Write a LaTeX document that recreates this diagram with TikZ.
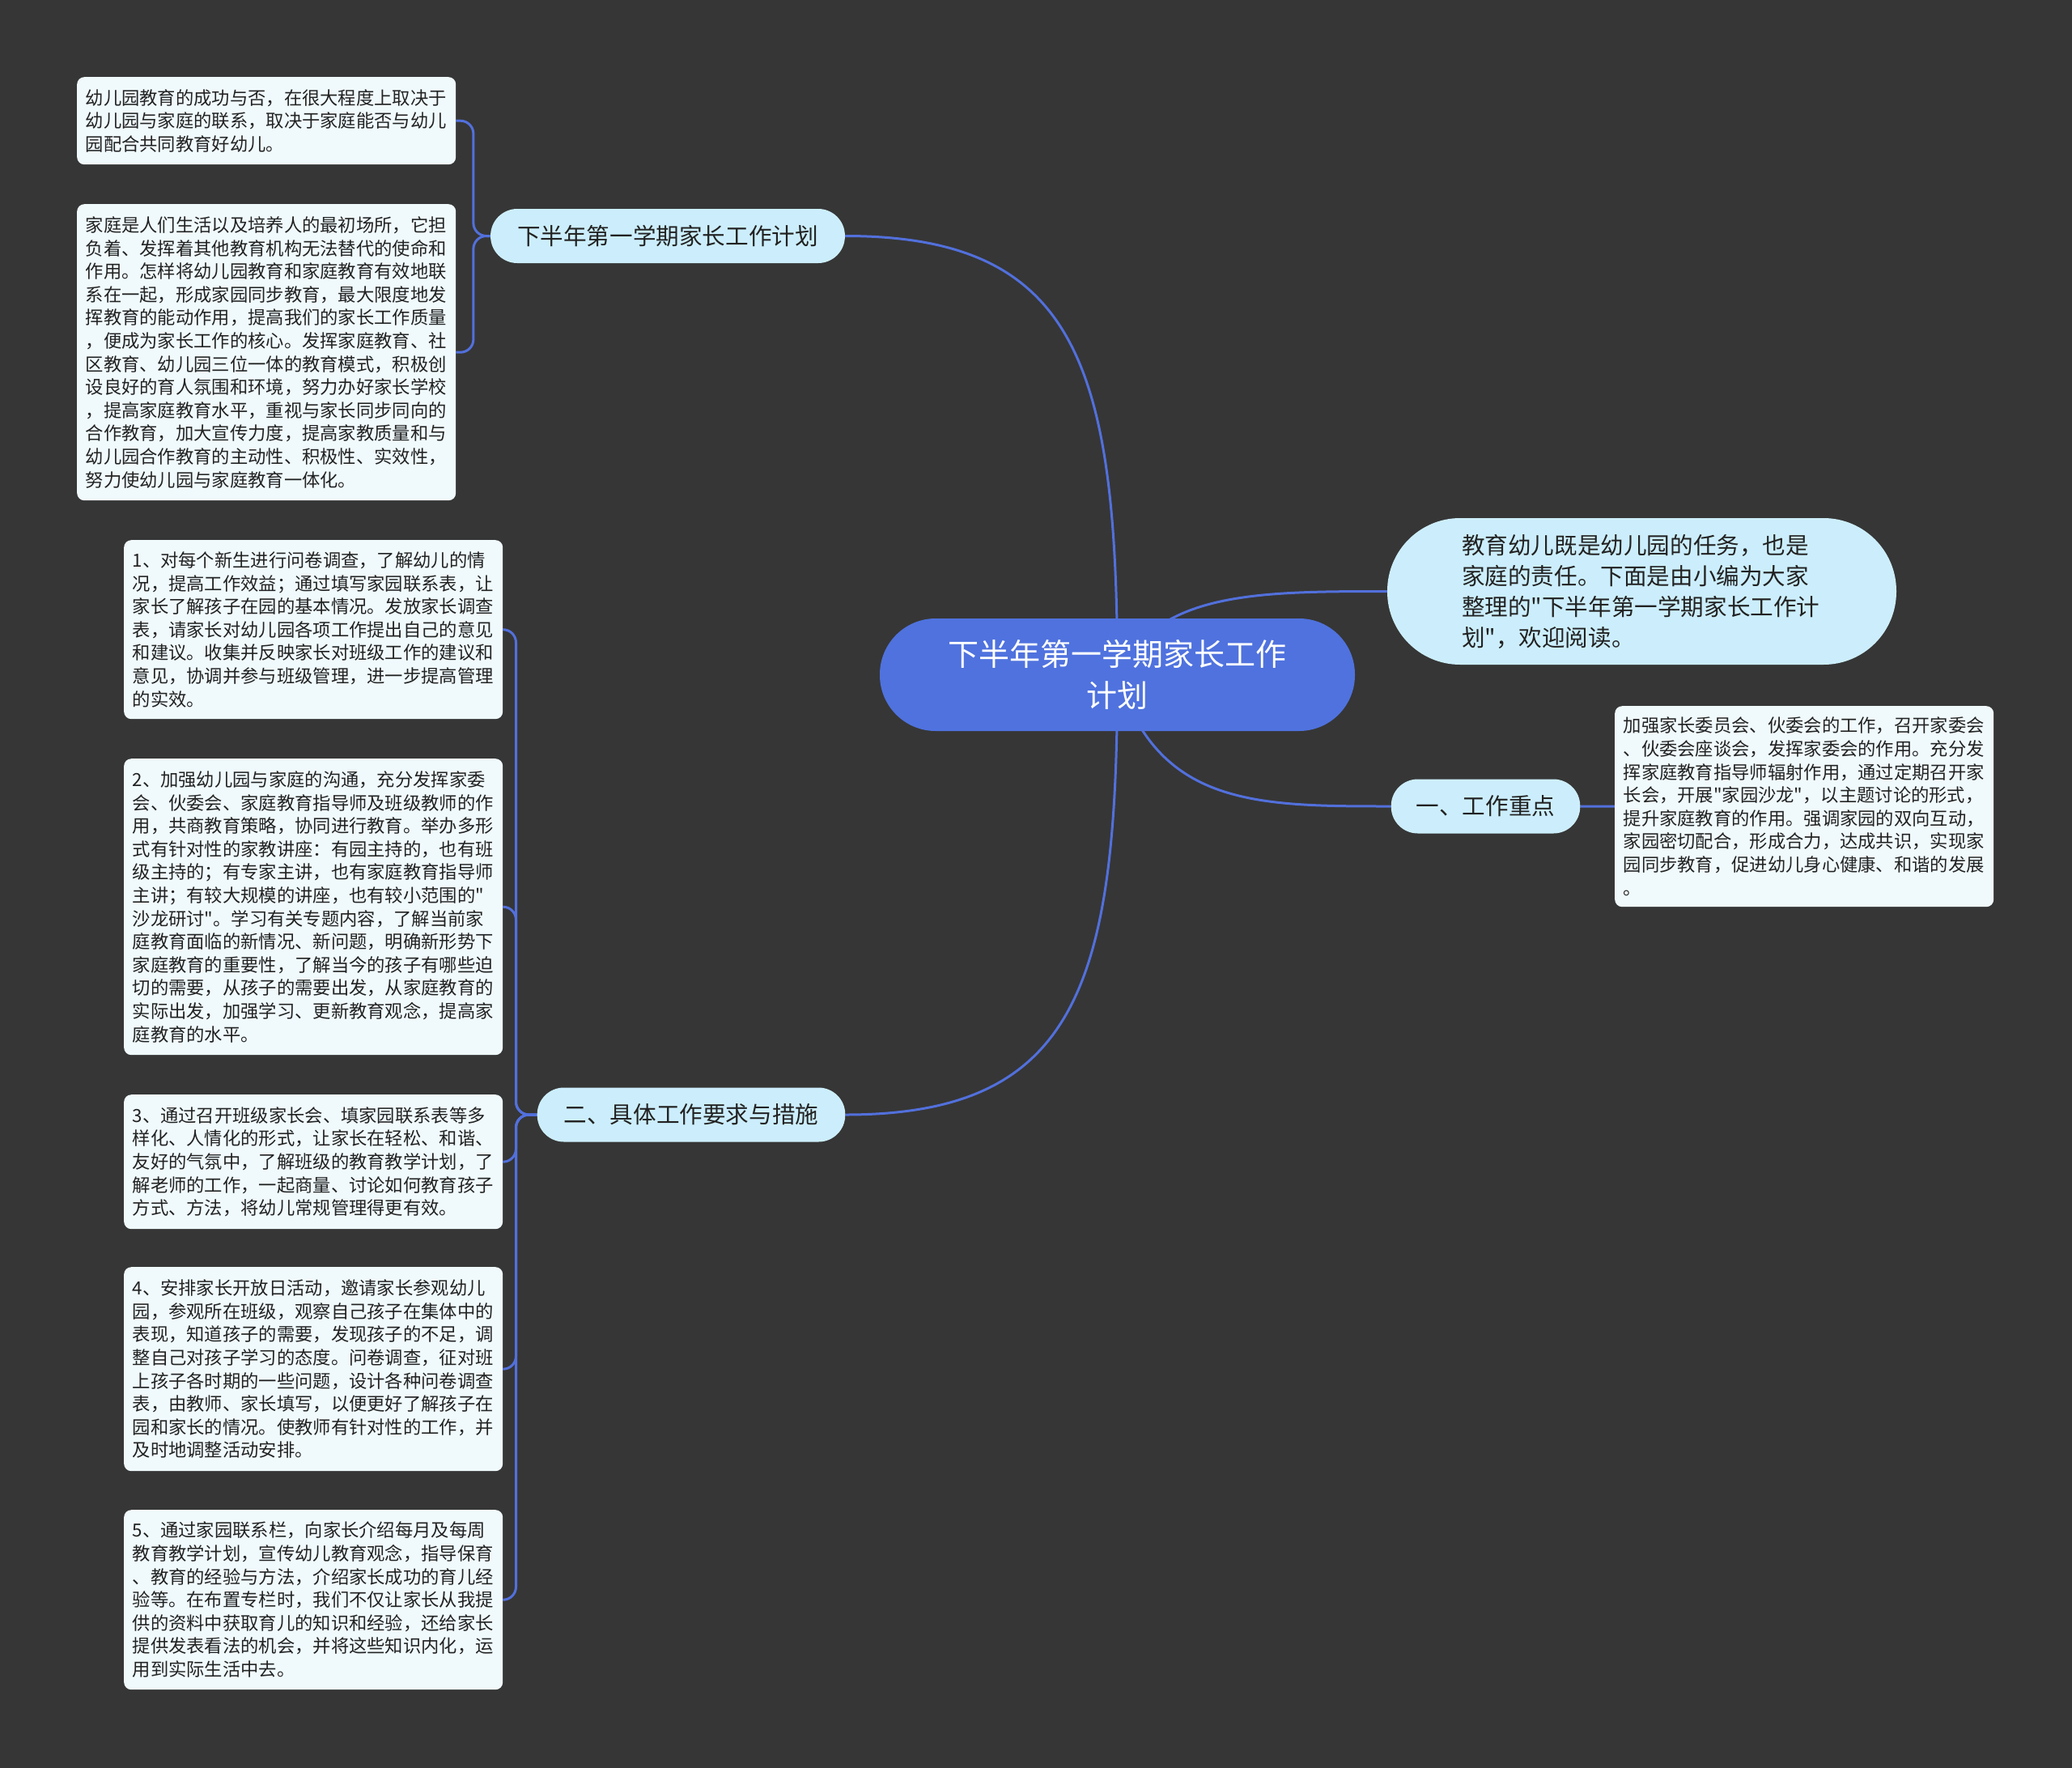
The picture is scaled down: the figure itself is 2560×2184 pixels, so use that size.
\documentclass[tikz,border=0pt]{standalone}
\usepackage{fontspec}
\setmainfont{Noto Sans CJK SC}
\newfontfamily\cjkf{Noto Sans CJK SC}
\usetikzlibrary{calc}
\pgfdeclarelayer{bg}
\pgfdeclarelayer{edges}
\pgfsetlayers{bg,edges,main}
\definecolor{bgc}{RGB}{54,54,54}
\definecolor{cblue}{RGB}{79,114,222}
\definecolor{lblue}{RGB}{204,238,252}
\definecolor{leafc}{RGB}{240,250,253}
\definecolor{edgec}{RGB}{82,112,220}
\definecolor{txt}{RGB}{34,34,34}
\begin{document}
\begin{tikzpicture}[x=1pt,y=-1pt,
  leafbox/.style={fill=leafc,rounded corners=9pt,text width=447pt,inner xsep=10.5pt,inner ysep=0pt,align=left,font=\cjkf\fontsize{22.3}{28.6}\selectfont,text=txt,anchor=north west},
  subbox/.style={fill=lblue,rounded corners=33pt,minimum height=67pt,inner xsep=33pt,inner ysep=0pt,font=\cjkf\fontsize{28.6}{36}\selectfont,text=txt},
  link/.style={draw=edgec,line width=3pt}]
\useasboundingbox (0,0) rectangle (2560,2184);
\begin{pgfonlayer}{bg}
\fill[bgc] (0,0) rectangle (2560,2184);
\end{pgfonlayer}

% central
\node[fill=cblue,rounded corners=69pt,minimum width=587pt,minimum height=139pt,inner sep=0pt,align=center,text=white,font=\cjkf\fontsize{38}{51}\selectfont] (c) at (1380.5,833.5) {下半年第一学期家长工作\\计划};

% level-1
\node[subbox] (n1) at (825,291.5) {下半年第一学期家长工作计划};
\node[subbox] (n2) at (854,1377) {二、具体工作要求与措施};
\node[subbox,inner xsep=31pt] (n4) at (1835.5,996) {一、工作重点};
\node[fill=lblue,rounded corners=90pt,minimum width=629pt,minimum height=181pt,text width=445pt,inner sep=0pt,align=left,text=txt,font=\cjkf\fontsize{28.6}{38}\selectfont] (n3) at (2028.5,730.5) {教育幼儿既是幼儿园的任务，也是\\家庭的责任。下面是由小编为大家\\整理的"下半年第一学期家长工作计\\划"，欢迎阅读。};

% leaves of n1
\node[leafbox,minimum height=108pt] (b1) at (95,95) {幼儿园教育的成功与否，在很大程度上取决于\\幼儿园与家庭的联系，取决于家庭能否与幼儿\\园配合共同教育好幼儿。};
\node[leafbox,minimum height=366pt] (b2) at (95,252) {家庭是人们生活以及培养人的最初场所，它担\\负着、发挥着其他教育机构无法替代的使命和\\作用。怎样将幼儿园教育和家庭教育有效地联\\系在一起，形成家园同步教育，最大限度地发\\挥教育的能动作用，提高我们的家长工作质量\\，便成为家长工作的核心。发挥家庭教育、社\\区教育、幼儿园三位一体的教育模式，积极创\\设良好的育人氛围和环境，努力办好家长学校\\，提高家庭教育水平，重视与家长同步同向的\\合作教育，加大宣传力度，提高家教质量和与\\幼儿园合作教育的主动性、积极性、实效性，\\努力使幼儿园与家庭教育一体化。};

% leaves of n2
\node[leafbox,minimum height=221pt] (d1) at (153,667) {1、对每个新生进行问卷调查，了解幼儿的情\\况，提高工作效益；通过填写家园联系表，让\\家长了解孩子在园的基本情况。发放家长调查\\表，请家长对幼儿园各项工作提出自己的意见\\和建议。收集并反映家长对班级工作的建议和\\意见，协调并参与班级管理，进一步提高管理\\的实效。};
\node[leafbox,minimum height=366pt] (d2) at (153,937) {2、加强幼儿园与家庭的沟通，充分发挥家委\\会、伙委会、家庭教育指导师及班级教师的作\\用，共商教育策略，协同进行教育。举办多形\\式有针对性的家教讲座：有园主持的，也有班\\级主持的；有专家主讲，也有家庭教育指导师\\主讲；有较大规模的讲座，也有较小范围的"\\沙龙研讨"。学习有关专题内容，了解当前家\\庭教育面临的新情况、新问题，明确新形势下\\家庭教育的重要性，了解当今的孩子有哪些迫\\切的需要，从孩子的需要出发，从家庭教育的\\实际出发，加强学习、更新教育观念，提高家\\庭教育的水平。};
\node[leafbox,minimum height=166pt] (d3) at (153,1352) {3、通过召开班级家长会、填家园联系表等多\\样化、人情化的形式，让家长在轻松、和谐、\\友好的气氛中，了解班级的教育教学计划，了\\解老师的工作，一起商量、讨论如何教育孩子\\方式、方法，将幼儿常规管理得更有效。};
\node[leafbox,minimum height=252pt] (d4) at (153,1565) {4、安排家长开放日活动，邀请家长参观幼儿\\园，参观所在班级，观察自己孩子在集体中的\\表现，知道孩子的需要，发现孩子的不足，调\\整自己对孩子学习的态度。问卷调查，征对班\\上孩子各时期的一些问题，设计各种问卷调查\\表，由教师、家长填写，以便更好了解孩子在\\园和家长的情况。使教师有针对性的工作，并\\及时地调整活动安排。};
\node[leafbox,minimum height=222pt] (d5) at (153,1865) {5、通过家园联系栏，向家长介绍每月及每周\\教育教学计划，宣传幼儿教育观念，指导保育\\、教育的经验与方法，介绍家长成功的育儿经\\验等。在布置专栏时，我们不仅让家长从我提\\供的资料中获取育儿的知识和经验，还给家长\\提供发表看法的机会，并将这些知识内化，运\\用到实际生活中去。};

% leaf of n4
\node[leafbox,minimum height=248pt] (r1) at (1995,872) {加强家长委员会、伙委会的工作，召开家委会\\、伙委会座谈会，发挥家委会的作用。充分发\\挥家庭教育指导师辐射作用，通过定期召开家\\长会，开展"家园沙龙"，以主题讨论的形式，\\提升家庭教育的作用。强调家园的双向互动，\\家园密切配合，形成合力，达成共识，实现家\\园同步教育，促进幼儿身心健康、和谐的发展\\。};

\begin{pgfonlayer}{edges}
\draw[link] (c.center) .. controls ($(c.center)+(0,-384)$) and ($(n1.east)+(285,0)$) .. (n1.east);
\draw[link] (c.center) .. controls ($(c.center)+(0,384)$) and ($(n2.east)+(285,0)$) .. (n2.east);
\draw[link] (c.center) .. controls ($(c.center)+(50,-102)$) and ($(n3.west)+(-164,0)$) .. (n3.west);
\draw[link] (c.center) .. controls ($(c.center)+(50,162)$) and ($(n4.west)+(-168,0)$) .. (n4.west);
\draw[link] (n4.east) -- (r1.west);
\draw[link,rounded corners=16pt] (n1.west) -- ++(-21,0) |- (b1.east);
\draw[link,rounded corners=16pt] (n1.west) -- ++(-21,0) |- (b2.east);
\draw[link,rounded corners=16pt] (n2.west) -- ++(-26,0) |- (d1.east);
\draw[link,rounded corners=16pt] (n2.west) -- ++(-26,0) |- (d2.east);
\draw[link,rounded corners=16pt] (n2.west) -- ++(-26,0) |- (d3.east);
\draw[link,rounded corners=16pt] (n2.west) -- ++(-26,0) |- (d4.east);
\draw[link,rounded corners=16pt] (n2.west) -- ++(-26,0) |- (d5.east);
\end{pgfonlayer}
\end{tikzpicture}
\end{document}
